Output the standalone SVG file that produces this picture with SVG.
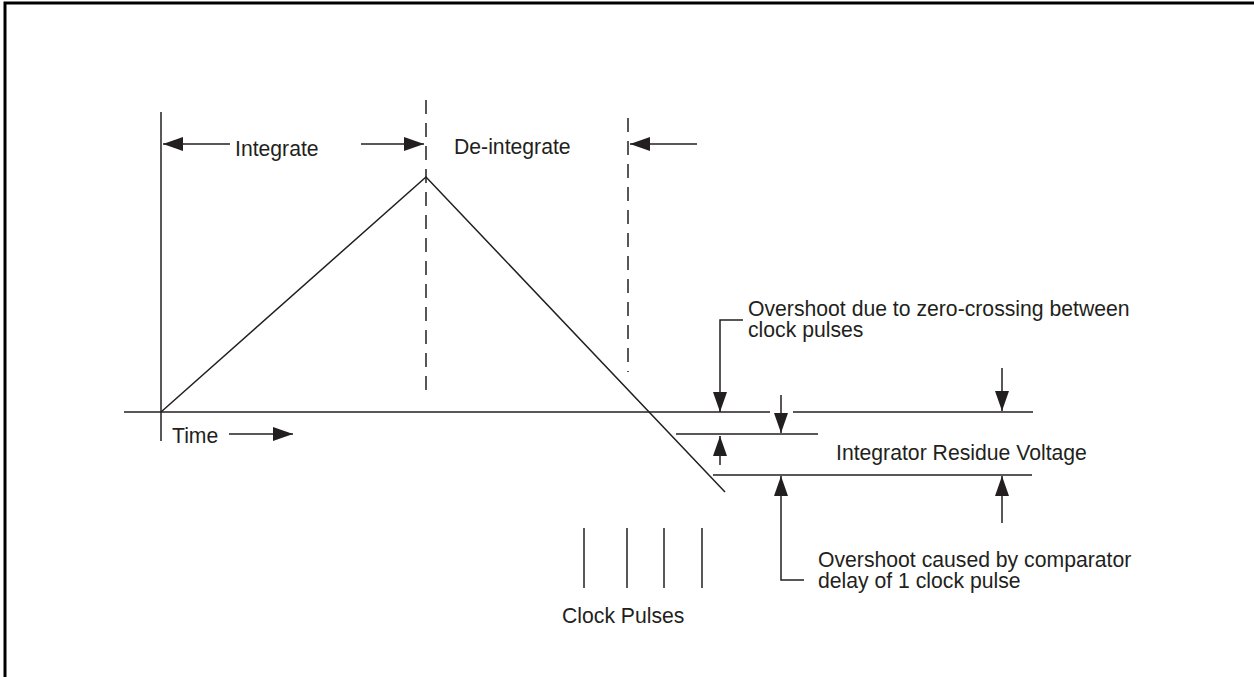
<svg xmlns="http://www.w3.org/2000/svg" width="1254" height="677" viewBox="0 0 1254 677">
<style>
.ln{stroke:#231f20;stroke-width:1.5;fill:none}
.dash{stroke:#231f20;stroke-width:1.5;stroke-dasharray:14 9;fill:none}
.t{font-family:"Liberation Sans",Arial,sans-serif;font-size:21.2px;fill:#231f20}
</style>
<defs>
<marker id="ah" markerUnits="userSpaceOnUse" markerWidth="20" markerHeight="14" refX="20" refY="7" orient="auto">
<path d="M0,0 L20,7 L0,14 Z" fill="#231f20"/>
</marker>
</defs>
<rect x="5" y="3" width="1260" height="690" fill="#fff" stroke="#000" stroke-width="3"/>
<g id="axes">
<line class="ln" x1="161" y1="112" x2="161" y2="441"/>
<line class="ln" x1="124" y1="412" x2="770" y2="412"/>
<line class="ln" x1="793" y1="412" x2="1033" y2="412"/>
</g>
<g id="waveform">
<polyline class="ln" points="161,412 426,177 725,492"/>
</g>
<g id="phase-markers">
<line class="dash" x1="426" y1="100" x2="426" y2="392"/>
<line class="dash" x1="628" y1="118" x2="628" y2="372"/>
</g>
<g id="levels">
<line class="ln" x1="676" y1="434" x2="818" y2="434"/>
<line class="ln" x1="713" y1="475" x2="1032" y2="475"/>
</g>
<g id="clock-pulses">
<line class="ln" x1="584" y1="528" x2="584" y2="588"/>
<line class="ln" x1="627" y1="528" x2="627" y2="588"/>
<line class="ln" x1="664" y1="528" x2="664" y2="588"/>
<line class="ln" x1="702" y1="528" x2="702" y2="588"/>
</g>
<g id="connectors">
<line class="ln" x1="230" y1="144" x2="163" y2="144" marker-end="url(#ah)"/>
<line class="ln" x1="361" y1="144" x2="424" y2="144" marker-end="url(#ah)"/>
<line class="ln" x1="697" y1="144" x2="630" y2="144" marker-end="url(#ah)"/>
<line class="ln" x1="229" y1="434" x2="293" y2="434" marker-end="url(#ah)"/>
<polyline class="ln" points="743,320 720,320 720,412" marker-end="url(#ah)"/>
<line class="ln" x1="781" y1="395" x2="781" y2="433" marker-end="url(#ah)"/>
<line class="ln" x1="720" y1="465" x2="720" y2="436" marker-end="url(#ah)"/>
<polyline class="ln" points="804,580 781,580 781,476" marker-end="url(#ah)"/>
<line class="ln" x1="1002" y1="368" x2="1002" y2="411" marker-end="url(#ah)"/>
<line class="ln" x1="1002" y1="523" x2="1002" y2="476" marker-end="url(#ah)"/>
</g>
<g id="labels">
<text class="t" x="235" y="156">Integrate</text>
<text class="t" x="454" y="154">De-integrate</text>
<text class="t" x="172" y="443">Time</text>
<text class="t" x="748" y="316">Overshoot due to zero-crossing between</text>
<text class="t" x="748" y="337">clock pulses</text>
<text class="t" x="836" y="460">Integrator Residue Voltage</text>
<text class="t" x="818" y="567">Overshoot caused by comparator</text>
<text class="t" x="818" y="588">delay of 1 clock pulse</text>
<text class="t" x="562" y="623">Clock Pulses</text>
</g>
</svg>
